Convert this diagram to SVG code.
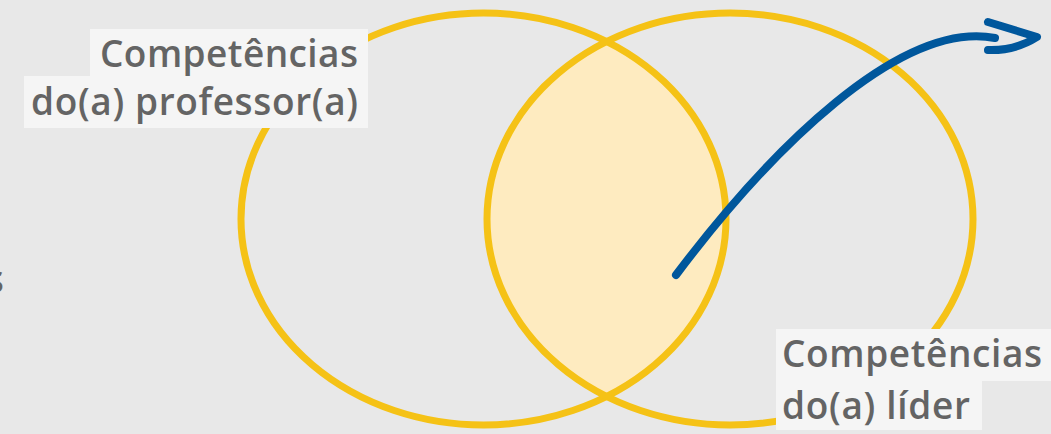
<svg xmlns="http://www.w3.org/2000/svg" width="1051" height="434" viewBox="0 0 1051 434">
  <style>
    .ring { fill: none; stroke: #f5c216; stroke-width: 7; }
    .lbl { font-family: "Open Sans", "Noto Sans", "Liberation Sans", sans-serif; font-size: 37px; font-weight: 600; fill: #646464; }
    .box { fill: #f5f5f5; }
    .arrow { fill: none; stroke: #00579c; stroke-width: 8; stroke-linecap: round; stroke-linejoin: round; }
  </style>
  <defs>
    <clipPath id="clipLeft">
      <ellipse cx="483.5" cy="219" rx="242.5" ry="206"/>
    </clipPath>
  </defs>
  <rect width="1051" height="434" fill="#e8e8e8"/>

  <g id="partial-text">
    <text class="lbl" x="4" y="293" text-anchor="end" style="font-size:40px">s</text>
  </g>

  <g id="overlap">
    <ellipse cx="730" cy="219" rx="243" ry="206" fill="#feebc0" clip-path="url(#clipLeft)"/>
  </g>
  <g id="circle-professor">
    <ellipse class="ring" cx="483.5" cy="219" rx="242.5" ry="206"/>
  </g>
  <g id="circle-lider">
    <ellipse class="ring" cx="730" cy="219" rx="243" ry="206"/>
  </g>

  <g id="label-professor">
    <rect class="box" x="90" y="29" width="278" height="48"/>
    <rect class="box" x="24" y="76" width="344" height="52"/>
    <text class="lbl" x="358" y="67" text-anchor="end" textLength="258" lengthAdjust="spacing">Competências</text>
    <text class="lbl" x="358" y="115" text-anchor="end" textLength="327" lengthAdjust="spacing">do(a) professor(a)</text>
  </g>

  <g id="label-lider">
    <rect class="box" x="776" y="329" width="275" height="52"/>
    <rect class="box" x="776" y="380" width="206" height="50"/>
    <text class="lbl" x="782" y="367" textLength="260" lengthAdjust="spacing">Competências</text>
    <text class="lbl" x="782" y="419" textLength="188" lengthAdjust="spacing">do(a) líder</text>
  </g>

  <g id="connectors">
    <path class="arrow" d="M676,275 C770,150 900,20 995,38"/>
    <path class="arrow" d="M988,22 L1037,37 Q1015,51 988,50"/>
  </g>
</svg>
